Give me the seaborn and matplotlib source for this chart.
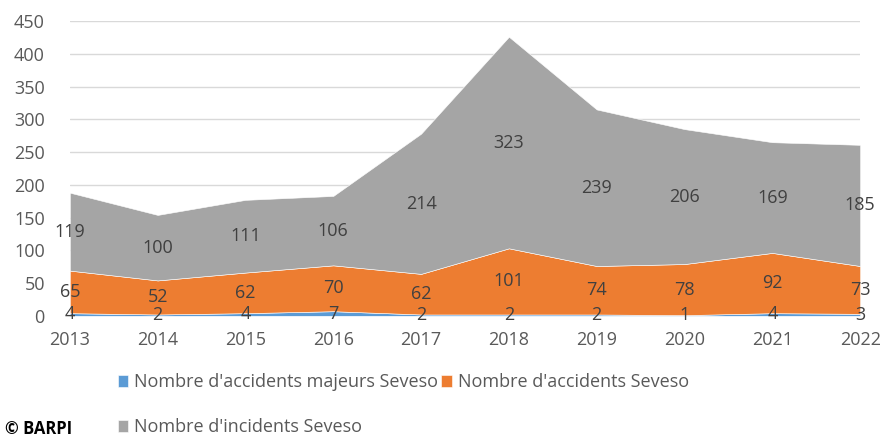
import numpy as np
import matplotlib.pyplot as plt
import pandas as pd
import seaborn as sns

# Données BARPI
years = [2013, 2014, 2015, 2016, 2017, 2018, 2019, 2020, 2021, 2022]
majeurs = [4, 2, 4, 7, 2, 2, 2, 1, 4, 3]
accidents = [65, 52, 62, 70, 62, 101, 74, 78, 92, 73]
incidents = [119, 100, 111, 106, 214, 323, 239, 206, 169, 185]

names = ["Nombre d'accidents majeurs Seveso",
         "Nombre d'accidents Seveso",
         "Nombre d'incidents Seveso"]
colors = ['#5B9BD5', '#ED7D31', '#A5A5A5']

df = pd.DataFrame({names[0]: majeurs, names[1]: accidents, names[2]: incidents},
                  index=years)

sns.set_style('white')
plt.rcParams['font.family'] = ['Open Sans', 'DejaVu Sans']

fig = plt.figure(figsize=(8.84, 4.38), dpi=100)
ax = fig.add_axes([0.079, 0.279, 0.894, 0.673])

polys = ax.stackplot(df.index, [df[c] for c in names], colors=colors,
                     labels=names, edgecolor='white', linewidth=0.4, zorder=2)

# étiquettes au milieu de chaque couche
base = np.zeros(len(years))
for c in names:
    vals = df[c].values
    for x, b, v in zip(years, base, vals):
        ax.text(x, b + v / 2, str(v), ha='center', va='center',
                fontsize=13, color='#404040', zorder=3)
    base = base + vals

ax.set_xlim(2013, 2022)
ax.set_ylim(0, 450)
ax.set_yticks(range(0, 451, 50))
ax.set_xticks(years)
ax.grid(axis='y', color='#D9D9D9', linewidth=1, zorder=0)
ax.set_axisbelow(True)
for s in ax.spines.values():
    s.set_visible(False)
ax.tick_params(axis='both', length=0, labelsize=13, labelcolor='#595959')
ax.tick_params(axis='y', pad=18)
ax.tick_params(axis='x', pad=11)

h, l = ax.get_legend_handles_labels()
order = [0, 2, 1]
fig.legend([h[i] for i in order], [l[i] for i in order], ncol=2,
           loc='upper left', bbox_to_anchor=(0.133, 0.148),
           frameon=False, fontsize=13, handlelength=0.6, handleheight=0.6,
           handletextpad=0.3, columnspacing=0.2, labelspacing=1.5,
           labelcolor='#595959', borderpad=0, borderaxespad=0)

fig.text(0.006, 0.0, '© BARPI', fontsize=12, fontweight='bold',
         color='black', ha='left', va='bottom')

fig.savefig('out.png', dpi=100)
